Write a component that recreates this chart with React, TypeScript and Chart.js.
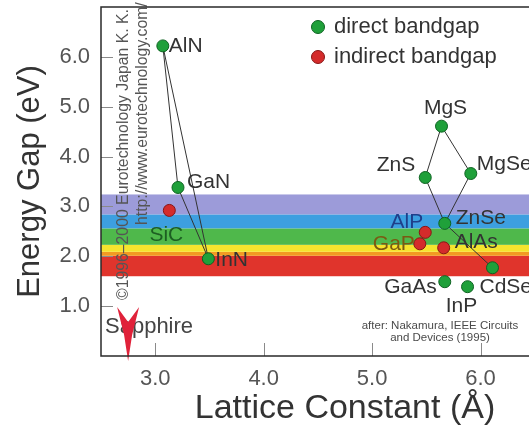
import { useEffect, useRef } from "react";
import { Chart, registerables } from "chart.js";

Chart.register(...registerables);

const FONT = "'Liberation Sans', Arial, Helvetica, sans-serif";

// ---- data ----
const directNames = ["AlN", "GaN", "InN", "MgS", "ZnS", "MgSe", "ZnSe", "CdSe", "GaAs", "InP"];
const directLattice = [3.07, 3.21, 3.49, 5.64, 5.49, 5.91, 5.67, 6.11, 5.67, 5.88];
const directGap = [6.22, 3.38, 1.95, 4.61, 3.58, 3.66, 2.66, 1.77, 1.49, 1.39];

const indirectNames = ["SiC", "AlP", "GaP", "AlAs"];
const indirectLattice = [3.13, 5.49, 5.44, 5.66];
const indirectGap = [2.92, 2.48, 2.25, 2.17];

const links: [string, string][] = [
  ["AlN", "GaN"],
  ["AlN", "InN"],
  ["GaN", "InN"],
  ["MgS", "ZnS"],
  ["MgS", "MgSe"],
  ["ZnS", "ZnSe"],
  ["MgSe", "ZnSe"],
  ["ZnSe", "CdSe"],
];

// visible spectrum bands (eV): red, orange, yellow, green, blue, violet
const bandLow = [1.6, 2.01, 2.09, 2.23, 2.56, 2.84];
const bandHigh = [2.01, 2.09, 2.23, 2.56, 2.84, 3.24];

const xTicks = [3, 4, 5, 6];
const yTicks = [1, 2, 3, 4, 5, 6];

const sapphireLattice = 2.75;
const sapphireLabel = "Sapphire";
const legendLabels = ["direct bandgap", "indirect bandgap"];
const creditLines = ["©1996–2000 Eurotechnology Japan K. K.", "http://www.eurotechnology.com/"];
const sourceLines = ["after: Nakamura, IEEE Circuits", "and Devices (1995)"];

// ---- styles ----
const bandColors = ["#e0342c", "#f29a22", "#f5e42e", "#4fb84b", "#3d9fe0", "#9c9bd9"];
const GREEN = "#1fa03a";
const GREEN_EDGE = "#0e6322";
const RED = "#d42b2b";
const RED_EDGE = "#871616";
const labelPlacement: Record<string, [number, number, CanvasTextAlign, string]> = {
  AlN: [6, 0, "left", "#333"],
  GaN: [9, -5, "left", "#333"],
  InN: [7, 1, "left", "#333"],
  SiC: [-3, 25, "center", "#1d5e22"],
  MgS: [4, -18, "center", "#333"],
  ZnS: [-10, -12, "right", "#333"],
  MgSe: [6, -9, "left", "#333"],
  ZnSe: [11, -5, "left", "#333"],
  AlP: [-2, -10, "right", "#1f3f8a"],
  GaP: [-5, 0, "right", "#7a5a12"],
  AlAs: [11, -6, "left", "#333"],
  CdSe: [-13, 19, "left", "#333"],
  GaAs: [-8, 5, "right", "#333"],
  InP: [-6, 20, "center", "#333"],
};

function lookup(name: string): { x: number; y: number } {
  let i = directNames.indexOf(name);
  if (i >= 0) return { x: directLattice[i], y: directGap[i] };
  i = indirectNames.indexOf(name);
  return { x: indirectLattice[i], y: indirectGap[i] };
}

const decorPlugin = {
  id: "decor",
  beforeDatasetsDraw(chart: any) {
    const { ctx, chartArea: a, scales } = chart;
    const x = scales.x;
    const y = scales.y;
    ctx.save();
    // bands
    bandLow.forEach((lo, i) => {
      const yt = y.getPixelForValue(bandHigh[i]);
      const yb = y.getPixelForValue(lo);
      ctx.fillStyle = bandColors[i];
      ctx.fillRect(a.left, yt, a.right - a.left, yb - yt);
    });
    // inward tick marks
    ctx.strokeStyle = "#8a8a8a";
    ctx.lineWidth = 1;
    yTicks.forEach((v) => {
      const py = Math.round(y.getPixelForValue(v)) + 0.5;
      ctx.beginPath();
      ctx.moveTo(a.left, py);
      ctx.lineTo(a.left + 12, py);
      ctx.stroke();
    });
    xTicks.forEach((v) => {
      const px = Math.round(x.getPixelForValue(v)) + 0.5;
      ctx.beginPath();
      ctx.moveTo(px, a.bottom);
      ctx.lineTo(px, a.bottom - 13);
      ctx.stroke();
    });
    // vertical credit text
    ctx.fillStyle = "#555";
    ctx.font = `15.8px ${FONT}`;
    ctx.textAlign = "left";
    ctx.textBaseline = "alphabetic";
    const creditPos = [
      [a.left + 27, a.bottom - 56],
      [a.left + 46, a.bottom - 131],
    ];
    creditLines.forEach((t, i) => {
      ctx.save();
      ctx.translate(creditPos[i][0], creditPos[i][1]);
      ctx.rotate(-Math.PI / 2);
      ctx.fillText(t, 0, 0);
      ctx.restore();
    });
    ctx.restore();
  },
  afterDatasetsDraw(chart: any) {
    const { ctx, chartArea: a, scales } = chart;
    const x = scales.x;
    const y = scales.y;
    ctx.save();
    // point labels
    ctx.font = `21px ${FONT}`;
    ctx.textBaseline = "middle";
    [...directNames, ...indirectNames].forEach((n) => {
      const p = lookup(n);
      const [dx, dy, al, col] = labelPlacement[n];
      ctx.fillStyle = col;
      ctx.textAlign = al;
      ctx.fillText(n, x.getPixelForValue(p.x) + dx, y.getPixelForValue(p.y) + dy);
    });
    // legend
    const lgX = a.left + 217;
    const lgY = [a.top + 20, a.top + 50];
    [[GREEN, GREEN_EDGE], [RED, RED_EDGE]].forEach(([f, s], i) => {
      ctx.beginPath();
      ctx.arc(lgX, lgY[i], 6.5, 0, Math.PI * 2);
      ctx.fillStyle = f;
      ctx.fill();
      ctx.strokeStyle = s;
      ctx.lineWidth = 1;
      ctx.stroke();
      ctx.fillStyle = "#333";
      ctx.textAlign = "left";
      ctx.font = `22px ${FONT}`;
      ctx.fillText(legendLabels[i], lgX + 16, lgY[i]);
    });
    // source note
    ctx.fillStyle = "#4a4a4a";
    ctx.font = `11.5px ${FONT}`;
    ctx.textAlign = "center";
    ctx.fillText(sourceLines[0], a.left + 339, a.bottom - 30);
    ctx.fillText(sourceLines[1], a.left + 339, a.bottom - 18);
    // sapphire label + arrow
    const sx = x.getPixelForValue(sapphireLattice);
    ctx.fillStyle = "#444";
    ctx.font = `22px ${FONT}`;
    ctx.textAlign = "left";
    ctx.fillText(sapphireLabel, a.left + 4, a.bottom - 29);
    const ty = a.bottom - 49;
    ctx.beginPath();
    ctx.moveTo(sx - 11, ty);
    ctx.lineTo(sx, ty + 15);
    ctx.lineTo(sx + 11, ty);
    ctx.lineTo(sx + 4, ty + 28);
    ctx.lineTo(sx, ty + 54);
    ctx.lineTo(sx - 4, ty + 28);
    ctx.closePath();
    ctx.fillStyle = "#e0223a";
    ctx.fill();
    // frame
    ctx.strokeStyle = "#2a2a2a";
    ctx.lineWidth = 1.5;
    ctx.beginPath();
    ctx.moveTo(a.right, a.top);
    ctx.lineTo(a.left, a.top);
    ctx.lineTo(a.left, a.bottom);
    ctx.lineTo(a.right, a.bottom);
    ctx.stroke();
    ctx.restore();
  },
};

export default function App() {
  const ref = useRef<HTMLCanvasElement | null>(null);
  useEffect(() => {
    if (!ref.current) return;
    const lineSets = links.map(([p, q]) => ({
      type: "line" as const,
      data: [lookup(p), lookup(q)],
      borderColor: "#333",
      borderWidth: 1,
      pointRadius: 0,
      fill: false,
      order: 5,
    }));
    const chart = new Chart(ref.current, {
      type: "scatter",
      data: {
        datasets: [
          {
            data: directLattice.map((v, i) => ({ x: v, y: directGap[i] })),
            backgroundColor: GREEN,
            borderColor: GREEN_EDGE,
            borderWidth: 1,
            pointRadius: 6,
            order: 0,
          },
          {
            data: indirectLattice.map((v, i) => ({ x: v, y: indirectGap[i] })),
            backgroundColor: RED,
            borderColor: RED_EDGE,
            borderWidth: 1,
            pointRadius: 6,
            order: 0,
          },
          ...lineSets,
        ] as any,
      },
      options: {
        responsive: false,
        animation: false,
        devicePixelRatio: 1,
        layout: { padding: { left: 0, top: 5, right: 11, bottom: 0 } },
        plugins: { legend: { display: false }, tooltip: { enabled: false } },
        scales: {
          x: {
            type: "linear",
            min: 2.5,
            max: 7.0,
            grid: { display: false, drawTicks: false },
            border: { display: false },
            afterBuildTicks: (s: any) => {
              s.ticks = xTicks.map((v) => ({ value: v }));
            },
            afterFit: (s: any) => {
              s.height = 69;
              s.paddingLeft = 0;
              s.paddingRight = 0;
            },
            ticks: {
              padding: 10,
              color: "#555",
              font: { family: FONT, size: 22 },
              callback: (v: any) => Number(v).toFixed(1),
            },
            title: {
              display: true,
              text: "Lattice Constant (Å)",
              color: "#333",
              font: { family: FONT, size: 34, lineHeight: 0.94 },
              padding: { top: 0, bottom: 0 },
            },
          },
          y: {
            type: "linear",
            min: 0,
            max: 7,
            grid: { display: false, drawTicks: false },
            border: { display: false },
            afterBuildTicks: (s: any) => {
              s.ticks = yTicks.map((v) => ({ value: v }));
            },
            afterFit: (s: any) => {
              s.width = 101;
              s.paddingTop = 0;
              s.paddingBottom = 0;
            },
            ticks: {
              padding: 11,
              color: "#555",
              font: { family: FONT, size: 22 },
              callback: (v: any) => Number(v).toFixed(1),
            },
            title: {
              display: true,
              text: "Energy Gap (eV)",
              color: "#333",
              font: { family: FONT, size: 31 },
              padding: { top: 12, bottom: 0 },
            },
          },
        },
      },
      plugins: [decorPlugin],
    });
    return () => chart.destroy();
  }, []);
  return (
    <div
      style={{
        position: "fixed",
        left: 0,
        top: 0,
        width: 529,
        height: 425,
        overflow: "hidden",
        background: "#fff",
      }}
    >
      <canvas ref={ref} width={600} height={425} style={{ display: "block" }} />
    </div>
  );
}
